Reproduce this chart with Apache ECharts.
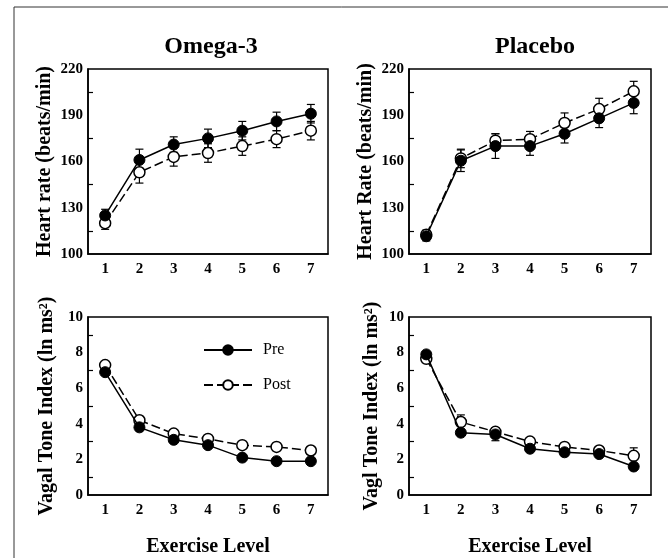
<!DOCTYPE html>
<html>
<head>
<meta charset="utf-8">
<script src="https://cdn.jsdelivr.net/npm/echarts@6/dist/echarts.min.js"></script>
<style>
  html, body { margin: 0; padding: 0; background: #fff; }
  #chart-container { width: 668px; height: 558px; }
</style>
</head>
<body>
<div id="chart-container"></div>
<script>
// data
const levels = ['1', '2', '3', '4', '5', '6', '7']

const omegaHrPre = [125, 161, 171, 175, 180, 186, 191]
const omegaHrPreErr = [4, 7, 5, 6, 6, 6, 6]
const omegaHrPost = [120, 153, 163, 165.5, 170, 174.5, 180]
const omegaHrPostErr = [4, 7, 6, 6, 6, 5.5, 6]

const placeboHrPre = [111.5, 160.5, 170, 170, 178, 188, 198]
const placeboHrPreErr = [3, 7, 8, 6, 6, 6, 7]
const placeboHrPost = [112.5, 162, 173.5, 174.5, 185, 194, 205.5]
const placeboHrPostErr = [3, 6, 4.5, 5, 6.5, 7, 6.5]

const omegaVtPre = [6.9, 3.8, 3.1, 2.8, 2.1, 1.9, 1.9]
const omegaVtPreErr = [0.15, 0.15, 0.15, 0.15, 0.15, 0.15, 0.15]
const omegaVtPost = [7.3, 4.2, 3.45, 3.15, 2.8, 2.7, 2.5]
const omegaVtPostErr = [0.15, 0.15, 0.15, 0.15, 0.15, 0.15, 0.15]

const placeboVtPre = [7.9, 3.5, 3.4, 2.6, 2.4, 2.3, 1.6]
const placeboVtPreErr = [0.15, 0.15, 0.35, 0.15, 0.15, 0.15, 0.15]
const placeboVtPost = [7.65, 4.1, 3.55, 3.0, 2.7, 2.5, 2.2]
const placeboVtPostErr = [0.15, 0.4, 0.2, 0.15, 0.15, 0.15, 0.45]

const panelTitles = ['Omega-3', 'Placebo']
const yNames = ['Heart rate (beats/min)', 'Heart Rate (beats/min)', 'Vagal Tone Index (ln ms\u00b2)', 'Vagl Tone Index (ln ms\u00b2)']
const xName = 'Exercise Level'

const serif = '"Liberation Serif", "DejaVu Serif", serif'

// panels: left, top, width, height
const grids = [
    { left: 88, top: 69, width: 240, height: 185 },
    { left: 409, top: 69, width: 242, height: 185 },
    { left: 88, top: 317, width: 240, height: 185 },
    { left: 409, top: 317, width: 242, height: 185 }
]

const makeX = (idx, withName) => ({
    type: 'category',
    gridIndex: idx,
    data: levels,
    boundaryGap: true,
    name: withName ? xName : '',
    nameLocation: 'middle',
    nameGap: 42,
    nameTextStyle: { fontFamily: serif, fontWeight: 'bold', fontSize: 20, color: '#000' },
    axisLine: { lineStyle: { color: '#000', width: 1.5 } },
    axisTick: { inside: true, alignWithLabel: true, length: 5, lineStyle: { color: '#000', width: 1.2 } },
    axisLabel: { fontFamily: serif, fontWeight: 'bold', fontSize: 15, color: '#000', margin: 8 },
    splitLine: { show: false }
})

const makeY = (idx, min, max, interval, name, gap) => ({
    type: 'value',
    gridIndex: idx,
    min: min,
    max: max,
    interval: interval,
    name: name,
    nameLocation: 'middle',
    nameGap: gap,
    nameTextStyle: { fontFamily: serif, fontWeight: 'bold', fontSize: 20, color: '#000' },
    axisLine: { show: true, lineStyle: { color: '#000', width: 1.5 } },
    axisTick: { inside: true, length: 5, lineStyle: { color: '#000', width: 1.2 } },
    minorTick: { show: true, splitNumber: 2, length: 5, lineStyle: { color: '#000', width: 1.2 } },
    axisLabel: { fontFamily: serif, fontWeight: 'bold', fontSize: 15, color: '#000', margin: 5 },
    splitLine: { show: false }
})

// error bars drawn as custom series
const errorBars = (idx, vals, errs) => ({
    type: 'custom',
    xAxisIndex: idx,
    yAxisIndex: idx,
    z: 1,
    silent: true,
    encode: { x: 0, y: 1 },
    data: vals.map((v, i) => [i, v, errs[i]]),
    renderItem: (params, api) => {
        let i = api.value(0)
        let v = api.value(1)
        let e = api.value(2)
        let hi = api.coord([i, v + e])
        let lo = api.coord([i, v - e])
        let hw = 4
        let style = { stroke: '#000', lineWidth: 1.2 }
        return {
            type: 'group',
            children: [
                { type: 'line', shape: { x1: hi[0], y1: hi[1], x2: lo[0], y2: lo[1] }, style: style },
                { type: 'line', shape: { x1: hi[0] - hw, y1: hi[1], x2: hi[0] + hw, y2: hi[1] }, style: style },
                { type: 'line', shape: { x1: lo[0] - hw, y1: lo[1], x2: lo[0] + hw, y2: lo[1] }, style: style }
            ]
        }
    }
})

const preLine = (idx, vals) => ({
    name: 'Pre',
    type: 'line',
    xAxisIndex: idx,
    yAxisIndex: idx,
    z: 4,
    data: vals,
    symbol: 'circle',
    symbolSize: 11,
    lineStyle: { color: '#000', width: 1.5, type: 'solid' },
    itemStyle: { color: '#000', borderColor: '#000', borderWidth: 1 }
})

const postLine = (idx, vals) => ({
    name: 'Post',
    type: 'line',
    xAxisIndex: idx,
    yAxisIndex: idx,
    z: 3,
    data: vals,
    symbol: 'circle',
    symbolSize: 11,
    lineStyle: { color: '#000', width: 1.5, type: [9, 4] },
    itemStyle: { color: '#fff', borderColor: '#000', borderWidth: 1.5 }
})

var dom = document.getElementById('chart-container');
var myChart = echarts.init(dom, null, { renderer: 'canvas' });
var option;
option = {
    animation: false,
    backgroundColor: '#fff',
    title: [
        { text: panelTitles[0], left: 206, top: 30, textAlign: 'center',
          textStyle: { fontFamily: serif, fontWeight: 'bold', fontSize: 24, color: '#000' } },
        { text: panelTitles[1], left: 530, top: 30, textAlign: 'center',
          textStyle: { fontFamily: serif, fontWeight: 'bold', fontSize: 24, color: '#000' } }
    ],
    legend: {
        orient: 'vertical',
        left: 198,
        top: 337,
        itemWidth: 48,
        itemHeight: 12,
        itemGap: 19,
        data: ['Pre', 'Post'],
        selectedMode: false,
        textStyle: { fontFamily: serif, fontSize: 16, color: '#000', padding: [0, 0, 0, 6] }
    },
    graphic: [
        { type: 'rect', shape: { x: 14, y: 7, width: 700, height: 600 },
          style: { fill: 'none', stroke: '#333', lineWidth: 1 }, silent: true }
    ],
    grid: grids.map(g => Object.assign({ show: true, borderColor: '#000', borderWidth: 1.5, backgroundColor: 'transparent' }, g)),
    xAxis: [makeX(0, false), makeX(1, false), makeX(2, true), makeX(3, true)],
    yAxis: [
        makeY(0, 100, 220, 30, yNames[0], 33),
        makeY(1, 100, 220, 30, yNames[1], 33),
        makeY(2, 0, 10, 2, yNames[2], 31),
        makeY(3, 0, 10, 2, yNames[3], 27)
    ],
    series: [
        errorBars(0, omegaHrPost, omegaHrPostErr),
        errorBars(0, omegaHrPre, omegaHrPreErr),
        postLine(0, omegaHrPost),
        preLine(0, omegaHrPre),
        errorBars(1, placeboHrPost, placeboHrPostErr),
        errorBars(1, placeboHrPre, placeboHrPreErr),
        postLine(1, placeboHrPost),
        preLine(1, placeboHrPre),
        errorBars(2, omegaVtPost, omegaVtPostErr),
        errorBars(2, omegaVtPre, omegaVtPreErr),
        postLine(2, omegaVtPost),
        preLine(2, omegaVtPre),
        errorBars(3, placeboVtPost, placeboVtPostErr),
        errorBars(3, placeboVtPre, placeboVtPreErr),
        postLine(3, placeboVtPost),
        preLine(3, placeboVtPre)
    ]
};
if (option && typeof option === 'object') {
    myChart.setOption(option);
}
window.addEventListener('resize', myChart.resize);
</script>
</body>
</html>
